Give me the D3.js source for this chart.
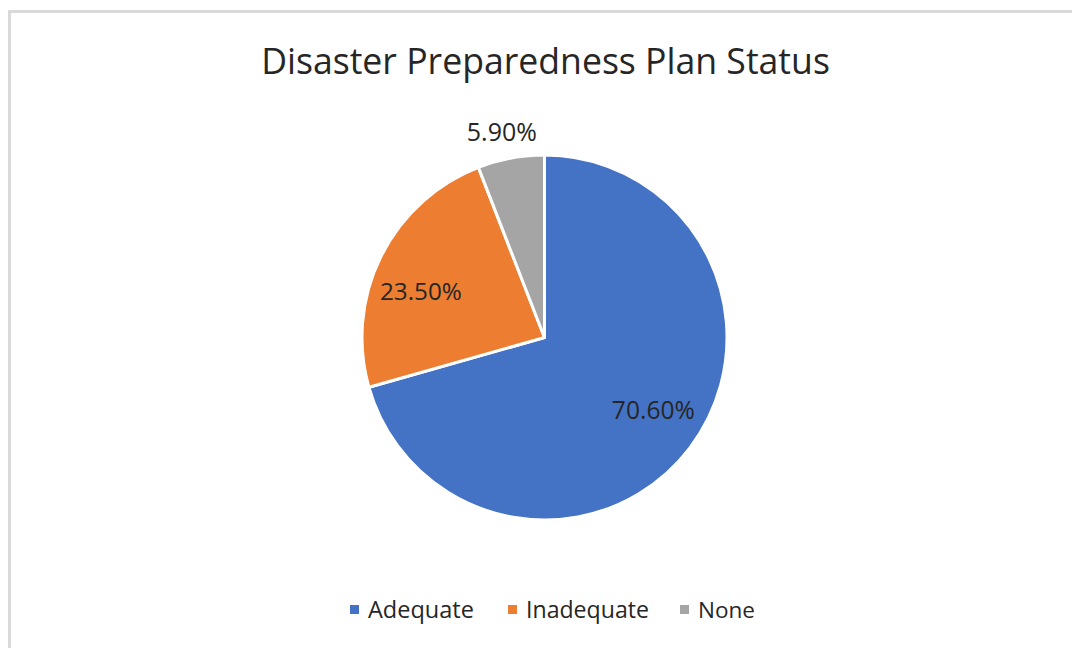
<!DOCTYPE html>
<html><head><meta charset="utf-8">
<script src="https://cdn.jsdelivr.net/npm/d3@7"></script>
<style>body{margin:0;background:#fff}svg{display:block}text{font-family:"Open Sans",sans-serif;fill:#262626}</style>
</head><body>
<svg id="c" width="1072" height="648"></svg>
<script>
const title = "Disaster Preparedness Plan Status";
const categories = ["Adequate", "Inadequate", "None"];
const values = [70.6, 23.5, 5.9];
const labels = ["70.60%", "23.50%", "5.90%"];
const colors = ["#4472C4", "#ED7D31", "#A5A5A5"];

const svg = d3.select("#c");
svg.append("rect").attr("x",9.5).attr("y",11.5).attr("width",1100).attr("height",700)
  .attr("fill","#fff").attr("stroke","#d9d9d9").attr("stroke-width",3);

function fit(sel, w){ // adjust font-size so text width ~ w
  const n = sel.node(); const fs = parseFloat(sel.attr("font-size"));
  const cw = n.getComputedTextLength(); sel.attr("font-size", fs*w/cw);
}

const t = svg.append("text").attr("x",545.5).attr("y",74).attr("text-anchor","middle")
  .attr("font-size",32).text(title);
fit(t, 569);

const cx = 544.5, cy = 337.5, R = 182.5;
const pie = d3.pie().sort(null).value(d=>d)(values);
const arc = d3.arc().innerRadius(0).outerRadius(R);
const g = svg.append("g").attr("transform",`translate(${cx},${cy})`);
g.selectAll("path").data(pie).join("path")
  .attr("d",arc).attr("fill",(d,i)=>colors[i]).attr("stroke","#fff").attr("stroke-width",3)
  .attr("stroke-linejoin","round");

const inArc = d3.arc().innerRadius(R*0.72).outerRadius(R*0.72);
const outArc = d3.arc().innerRadius(R*1.15).outerRadius(R*1.15);
const labW = [83, 82, 70];
const nudge = [[4,-6],[-6,13],[-4,1]];
pie.forEach((d,i)=>{
  const c = (i===2 ? outArc : inArc).centroid(d);
  const tx = g.append("text").attr("x",c[0]+nudge[i][0]).attr("y",c[1]+nudge[i][1]).attr("dy","0.35em")
    .attr("text-anchor","middle").attr("font-size",20).text(labels[i]);
  fit(tx, labW[i]);
});

// legend
const lx = [350, 508, 680], lw = [106, 123, 57];
const lg = svg.append("g");
categories.forEach((c,i)=>{
  lg.append("rect").attr("x",lx[i]).attr("y",605).attr("width",9).attr("height",9).attr("fill",colors[i]);
  const tx = lg.append("text").attr("x",lx[i]+18).attr("y",618).attr("font-size",20).text(c);
  fit(tx, lw[i]);
});
</script>
</body></html>
